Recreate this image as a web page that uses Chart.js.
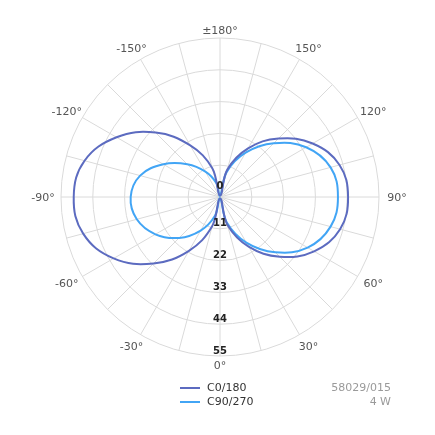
<!DOCTYPE html>
<html>
<head>
<meta charset="utf-8">
<script src="https://cdn.jsdelivr.net/npm/chart.js@4"></script>
<style>
  html, body { margin: 0; padding: 0; background: #fff; }
  #wrap { position: relative; width: 435px; height: 435px; font-family: "DejaVu Sans", sans-serif; }
  #chart { position: absolute; left: 0; top: 0; }
  .leg { position: absolute; font-size: 11px; line-height: 14px; color: #333; white-space: nowrap; }
  .leg .swatch { position: absolute; left: -27px; top: 6px; width: 20px; height: 2px; }
  .info { position: absolute; right: 44px; font-size: 11px; line-height: 14px; color: #9a9a9a; text-align: right; }
</style>
</head>
<body>
<div id="wrap">
  <canvas id="chart" width="435" height="435"></canvas>
  <div class="leg" style="left:207px; top:381px;"><span class="swatch" style="background:#5c6bc0"></span>C0/180</div>
  <div class="leg" style="left:207px; top:395px;"><span class="swatch" style="background:#42a5f5"></span>C90/270</div>
  <div class="info" style="top:381px;">58029/015</div>
  <div class="info" style="top:395px;">4 W</div>
</div>
<script>
// gamma angles 0..180 in 15 deg steps, one array per half plane
const gammas = [0, 15, 30, 45, 60, 75, 90, 105, 120, 135, 150, 165, 180];
// C0/180
const c180Left  = [0.5, 10.5, 21.5, 32.5, 42.5, 49.0, 50.6, 48.5, 41.3, 31.5, 20.6, 10.3, 0.5];
const c0Right   = [0.5, 10.0, 19.8, 29.2, 37.6, 43.0, 44.3, 42.8, 37.0, 28.6, 19.4, 9.8, 0.5];
// C90/270
const c270Left  = [0.5, 6.7, 13.4, 20.0, 25.8, 29.8, 30.9, 28.6, 22.6, 16.0, 10.1, 5.0, 0.5];
const c90Right  = [0.5, 9.1, 18.2, 27.0, 35.0, 39.6, 40.8, 39.6, 34.4, 26.3, 17.7, 9.0, 0.5];

const seriesNames = ['C0/180', 'C90/270'];
const seriesColors = ['#5c6bc0', '#42a5f5'];
const tickValues = [0, 11, 22, 33, 44, 55];

// radar index 0 = gamma 0 at the bottom, going clockwise (left side first)
const labels = [];
for (let i = 0; i < 24; i++) {
    if (i === 0) labels.push('0°');
    else if (i < 12) labels.push('-' + gammas[i] + '°');
    else if (i === 12) labels.push('±180°');
    else labels.push(gammas[24 - i] + '°');
}
function ring(left, right) {
    const out = [];
    for (let i = 0; i < 24; i++) out.push(i <= 12 ? left[i] : right[24 - i]);
    return out;
}

const polarText = {
    id: 'polarText',
    afterDraw(chart) {
        const scale = chart.scales.r;
        const ctx = chart.ctx;
        const r = scale.drawingArea;
        ctx.save();
        ctx.textAlign = 'center';
        ctx.textBaseline = 'middle';
        // angle labels, every 30 deg
        ctx.font = '11px "DejaVu Sans"';
        ctx.fillStyle = '#555';
        labels.forEach((lab, i) => {
            if (i % 2) return;
            const a = scale.getIndexAngle(i);
            const s = Math.sin(a), c = Math.cos(a);
            const vertical = Math.abs(s) < 0.01;
            const dx = vertical ? 0 : (r + 18) * s;
            const dy = vertical ? (r + 8.25) * c : (r + 13) * c;
            ctx.fillText(lab, scale.xCenter + dx, scale.yCenter - dy + 1.5);
        });
        // value labels down the 0 deg axis
        ctx.font = 'bold 10px "DejaVu Sans"';
        ctx.fillStyle = '#222';
        tickValues.forEach(v => {
            const y = scale.yCenter + scale.getDistanceFromCenterForValue(v) - (v === 0 ? 11 : 5);
            ctx.fillText(String(v), scale.xCenter, y);
        });
        ctx.restore();
    }
};

new Chart(document.getElementById('chart'), {
    type: 'radar',
    data: {
        labels: labels,
        datasets: [
            { label: seriesNames[0], data: ring(c180Left, c0Right), borderColor: seriesColors[0] },
            { label: seriesNames[1], data: ring(c270Left, c90Right), borderColor: seriesColors[1] }
        ]
    },
    options: {
        responsive: false,
        animation: false,
        layout: { padding: { left: 61, right: 56, top: 38, bottom: 79 } },
        elements: {
            line: { borderWidth: 2, tension: 0.4, fill: false },
            point: { radius: 0, hitRadius: 0 }
        },
        plugins: { legend: { display: false }, tooltip: { enabled: false } },
        scales: {
            r: {
                startAngle: 180,
                min: 0,
                max: 55,
                ticks: { display: false, stepSize: 11 },
                grid: { circular: true, color: '#dadada', lineWidth: 1 },
                angleLines: { color: '#dadada', lineWidth: 1 },
                pointLabels: { display: false }
            }
        }
    },
    plugins: [polarText]
});
</script>
</body>
</html>
